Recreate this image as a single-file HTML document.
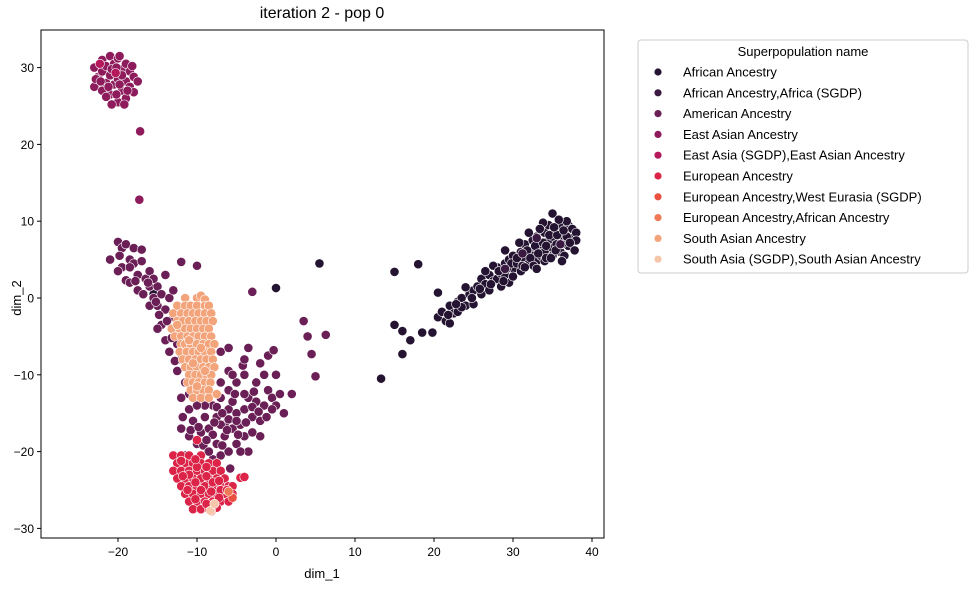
<!DOCTYPE html>
<html><head><meta charset="utf-8"><style>
body{margin:0;background:#fff;}
svg{display:block;font-family:"Liberation Sans","DejaVu Sans",sans-serif;}
</style></head><body>
<svg id="chart" width="978" height="590" xmlns="http://www.w3.org/2000/svg">
<text x="322" y="18" text-anchor="middle" font-size="16">iteration 2 - pop 0</text>
<g id="plot"></g>
<rect x="41" y="30" width="563" height="508" fill="none" stroke="#000" stroke-width="1"/>
<g id="xticks"></g>
<g id="yticks"></g>
<text x="322" y="578" text-anchor="middle" font-size="13">dim_1</text>
<text x="21" y="298" text-anchor="middle" font-size="13" transform="rotate(-90 21 298)">dim_2</text>
<g>
<rect x="638" y="40" width="330" height="233" rx="3" fill="#fff" stroke="#ccc"/>
<text x="803" y="56" text-anchor="middle" font-size="13">Superpopulation name</text>
<g id="legend"></g>
</g>
</svg>
<script>
const xTicks=[-20,-10,0,10,20,30,40];
const yTicks=[-30,-20,-10,0,10,20,30];
const seriesNames=["African Ancestry","African Ancestry,Africa (SGDP)","American Ancestry","East Asian Ancestry","East Asia (SGDP),East Asian Ancestry","European Ancestry","European Ancestry,West Eurasia (SGDP)","European Ancestry,African Ancestry","South Asian Ancestry","South Asia (SGDP),South Asian Ancestry"];
const seriesColors=["#241432","#3b1a42","#6a1f56","#8e1c5d","#b5195b","#db2447","#ea5040","#f07a57","#f3a47b","#f6c6aa"];
const african=[[20.5,-2.5],[21,-1.8],[21.5,-3],[22,-1],[22.5,-2],[23,-0.5],[23,-1.8],[23.5,0],[24,-1],[24.5,0.5],[25,1],[25,-0.8],[19.8,-4.5],[20.5,0.7],[22,-3.3],[24,1.4],[21.8,-2.2],[23.5,-1.2],[24.8,0],[22.8,-0.8],
[25.5,1.5],[26,2.5],[26,0.5],[26.5,1.8],[27,3],[27,1],[27.5,2.2],[28,4],[28,2.5],[28.5,3.2],[28.5,1.5],[29,4.5],[29,3],[29.5,2],[29.5,5],[30,3.8],[30,5.5],[30,2.8],[27.5,4.2],[26.5,3.5],[25.8,1.2],[27.2,1.8],[28.2,3.5],[29.2,3.8],[29.8,4.5],[28.8,2.2],
[30.5,4.5],[31,6],[31,3.5],[31.5,5],[31.5,7],[32,6],[32,4.5],[32.5,7.5],[32.5,5.5],[33,6.5],[33,4.8],[33,8],[33.5,7],[33.5,5.5],[34,6],[34,8.5],[34,4.8],[34.5,7.5],[34.5,9.5],[35,6.5],[35,8],[35,5.5],[35,11],[30.8,7.2],[32,8.5],[33.8,9.8],[30.5,5.2],[31.2,4.2],[31.8,6.2],[32.2,5.2],[32.8,6.8],[33.2,5.8],[33.8,7.2],[34.2,6.8],[34.6,8.2],[34.2,5.2],[32.6,4.2],[33.4,9],
[35.5,7],[35.5,9],[36,8.3],[36,6],[36,9.5],[36.5,7.5],[36.5,5.5],[37,8.5],[37,6.8],[37,9.5],[37.5,7.8],[37.5,9],[38,8.5],[38,7.5],[36.8,10],[35.8,10.2],[37.8,6.2],[34.8,5.2],[31.5,4],[33,3.8],[29,6.2],[36.2,4.8],[35.4,6.2],[36.2,7],[36.8,8],[35.6,8.2],[37.2,7.2],[35.2,9.2],[36.4,8.8],
[5.5,4.5],[0,1.3],[15,3.4],[18,4.4],[15,-3.5],[16,-4.3],[17,-5.5],[16,-7.3],[18.5,-4.5],[13.3,-10.5],[-15.5,0.5]];
const africanSgdp=[[29,3.8],[33,7.8],[36,7],[31.2,5.8]];
const american=[[-21,5],[-20,7.3],[-19.5,6.5],[-19,7],[-19.5,4],[-18.5,5],[-18,4.5],[-20,3.5],[-18,6.5],[-17,6.3],[-17.5,3],[-17,4.8],[-16.5,2.5],[-16,3.5],[-19,2.3],[-18.5,2],[-17.5,1],[-16,1.5],[-15.5,0],[-15,1.5],[-15,-1],[-14.5,0.5],[-14,-1.5],[-13.5,0],[-16,-1],[-14.5,-3.5],[-13,-2.5],[-15,-4],[-14,-5.5],[-13,-4],[-12.5,-6],[-13.5,-7],[-12,-8],[-12.5,-9.5],[-11.5,-11],[-11,-12.5],[-12,-13],[-11,-14.5],[-10.5,-16],[-12,-17],[-11,-18],[-10,-19],[-11.5,-20.5],[-9.5,-17.5],[-14,3],[-12,4.7],[-10,4.2],[-13,1],[-15.5,2.5],[-16.8,0.5],[-11.5,-2],[-12.2,-3.8],[-14.8,-2.2],[-17.8,2.2],[-16.2,2],[-15.2,-0.5],[-13.8,-3],[-13.2,-5.2],[-12.8,-8.2],[-11.8,-15.5],[-10.8,-17.2],[-18.5,4],[-19.8,5.5],
[-8,-14],[-7.5,-15.5],[-7,-13],[-6.5,-16.5],[-6,-14.5],[-5.5,-17],[-5,-15],[-5,-19],[-4.5,-16.5],[-4,-18],[-3.5,-13],[-3.5,-20],[-3,-15.5],[-2.5,-13.5],[-2,-16],[-1.5,-14],[-1,-12],[-0.5,-13],[0,-14],[0.5,-12.5],[1,-15],[2,-12.5],[-2,-18],[-3,-17.5],[-6,-12],[-7,-11],[-6,-9.5],[-5,-11],[-4,-12.5],[-7.5,-19],[-8,-21],[-8.5,-17],[-9,-15.5],[-7,-20.5],[-6,-20],[-8.2,-12.5],[-9,-14],[-4,-10],[-4.2,-8.8],[-6.5,-18],[-5.8,-22.2],[-9.2,-19.2],[-10,-14],[-7,-7],[-6,-6.5],[-5.5,-10],[-7,-16.5],[-8,-17.8],[-6,-15.8],[-4,-14.5],[-9.5,-12.5],[-7.5,-14.2],[-6.8,-15],[-5.5,-13.5],[-4.8,-17.8],[-6.2,-17.2],[-7.8,-16.2],[-8.8,-18.5],[-5,-16],[-3,-14.2],[-2.2,-14.8],[-1.2,-15.5],[-0.5,-14.5],[-4.5,-20],[-6.8,-19.2],[-8.5,-20],[-9.8,-16.8],[-3.8,-16.2],[-2.8,-12.2],[-5.2,-12.5],
[-3.5,-6.5],[-4,-8],[-2,-8.5],[-1,-7.5],[-0.3,-6.8],[-1.5,-10],[-2.5,-11],[0,-10],[3.5,-3],[4,-5],[4.5,-7.3],[5,-10.2],[6.3,-4.8],[-3,0.8]];
const eastAsian=[[-23,27.5],[-23,30],[-22.5,28.8],[-22,27],[-22,31],[-22,29.5],[-21.5,28],[-21.5,30.2],[-21,26.5],[-21,29],[-21,31.5],[-20.5,27.8],[-20.5,30.5],[-20,25.5],[-20,28.5],[-20,31.2],[-19.5,27],[-19.5,29.8],[-19,26],[-19,28.2],[-19,30.5],[-18.5,27.5],[-18.5,29.5],[-18,28.8],[-18,26.8],[-17.5,28.2],[-18.2,30.2],[-20.8,25.2],[-22.8,28.5],[-19.8,31.5],[-21.5,26.2],[-20.2,26.5],[-19.2,25.2],[-21.2,27.5],[-20.8,29.8],[-19.8,27.8],[-19.5,29],[-18.8,27],[-22.2,28.2],[-20.2,30],[-17.2,21.7],[-17.3,12.8]];
const eastAsiaSgdp=[[-22.3,30.5],[-20.3,29.3]];
const european=[[-13,-20.5],[-12,-20.5],[-11,-20.5],[-9.5,-20.5],[-12.5,-21.5],[-11.5,-21.5],[-10.5,-21.5],[-9.5,-21.5],[-8.5,-21.5],[-7.5,-21.5],[-13,-22.5],[-12,-22.5],[-11,-22.5],[-10,-22.5],[-9,-22.5],[-8,-22.5],[-7,-22.5],[-12.5,-23.5],[-11.5,-23.5],[-10.5,-23.5],[-9.5,-23.5],[-8.5,-23.5],[-7.5,-23.5],[-6.5,-23.5],[-4.5,-23.4],[-12,-24.5],[-11,-24.5],[-10,-24.5],[-9,-24.5],[-8,-24.5],[-7,-24.5],[-6,-24.5],[-5.5,-24.5],[-11.5,-25.5],[-10.5,-25.5],[-9.5,-25.5],[-8.5,-25.5],[-7.5,-25.5],[-6.5,-25.5],[-5.5,-25.5],[-11,-26.5],[-10,-26.5],[-9,-26.5],[-8,-26.5],[-7,-26.5],[-6,-26.5],[-10.5,-27.5],[-9.5,-27.5],[-8.5,-27.5],[-7.5,-27.3],[-10,-18.5],[-4,-23.3],[-11,-23],[-9.5,-25],[-8,-24],[-10,-22],[-7,-25],[-12,-21.2],[-10.2,-21],[-8.8,-22],[-11.8,-23.2],[-10.2,-24],[-8.8,-23.2],[-7.2,-23.8],[-11.2,-25],[-8.2,-25.2],[-6.2,-25],[-10.2,-26.2],[-8.8,-26.8],[-7.2,-26]];
const europeanSgdp=[[-5.5,-26],[-8.2,-27.8]];
const europeanAfrican=[[-6,-25.2]];
const southAsian=[[-11.5,0],[-10,0],[-9.5,0.3],[-9,-0.2],[-12.5,-1],[-11.5,-1],[-10.8,-1],[-10,-1],[-9,-1],[-8.5,-1],[-13,-2],[-12,-2],[-11.2,-2],[-10.5,-2],[-9.8,-2],[-9,-2],[-8.2,-2],[-12.5,-3],[-11.8,-3],[-11,-3],[-10.2,-3],[-9.5,-3],[-8.8,-3],[-8,-3],[-13.2,-4],[-12.2,-4],[-11.5,-4],[-10.8,-4],[-10,-4],[-9.2,-4],[-8.5,-4],[-12.8,-5],[-12,-5],[-11.2,-5],[-10.5,-5],[-9.8,-5],[-9,-5],[-8.2,-5],[-12,-6],[-11.5,-6],[-10.8,-6],[-10,-6],[-9.2,-6],[-8.5,-6],[-7.8,-6],[-12.2,-7],[-11.3,-7],[-10.5,-7],[-9.8,-7],[-9,-7],[-8.2,-7],[-11.8,-8],[-11,-8],[-10.2,-8],[-9.5,-8],[-8.8,-8],[-8,-8],[-11.5,-9],[-10.8,-9],[-10,-9],[-9.2,-9],[-8.5,-9],[-7.8,-9],[-11,-10],[-10.2,-10],[-9.5,-10],[-8.8,-10],[-8.2,-10],[-11.2,-11],[-10.5,-11],[-9.8,-11],[-9,-11],[-8.3,-11],[-10.8,-12],[-10,-12],[-9.2,-12],[-8.5,-12],[-10.5,-13],[-9.5,-13],[-8.5,-13],[-7.5,-12.5],[-12.5,-3.5],[-11,-5.5],[-9.5,-6.5],[-10.5,-8.5],[-9,-9.5],[-10,-11.5]];
const southAsiaSgdp=[[-8.3,-27.7],[-7.8,-26.8]];
const allSeries=[african,africanSgdp,american,eastAsian,eastAsiaSgdp,european,europeanSgdp,europeanAfrican,southAsian,southAsiaSgdp];
const NS="http://www.w3.org/2000/svg";
function sx(v){return 276+7.9*v;}
function sy(v){return 298-7.68*v;}
function mk(tag,attrs,parent){const e=document.createElementNS(NS,tag);for(const k in attrs)e.setAttribute(k,attrs[k]);parent.appendChild(e);return e;}
function fmt(t){return t<0?'\u2212'+Math.abs(t):String(t);}
const plot=document.getElementById('plot');
allSeries.forEach((pts,si)=>{
  const g=mk('g',{},plot);
  
  
  pts.forEach(p=>{
    const c=mk('circle',{cx:sx(p[0]),cy:sy(p[1]),r:4.6,fill:seriesColors[si],stroke:'#fff','stroke-width':0.6},g);
    
    
  });
});
const xg=document.getElementById('xticks');
xTicks.forEach(t=>{
  const l=mk('line',{x1:sx(t),x2:sx(t),y1:538,y2:542,stroke:'#000'},xg);
  
  
  const tx=mk('text',{x:sx(t),y:556,'text-anchor':'middle','font-size':12},xg);
  tx.textContent=fmt(t);
  
  
});
const yg=document.getElementById('yticks');
yTicks.forEach(t=>{
  const l=mk('line',{x1:37,x2:41,y1:sy(t),y2:sy(t),stroke:'#000'},yg);
  
  
  const tx=mk('text',{x:34,y:sy(t)+4.5,'text-anchor':'end','font-size':12},yg);
  tx.textContent=fmt(t);
  
  
});
const lg=document.getElementById('legend');
seriesNames.forEach((n,i)=>{
  const y=72+i*20.8;
  const g=mk('g',{},lg);
  
  
  mk('circle',{cx:658,cy:y,r:3.6,fill:seriesColors[i]},g);
  const t=mk('text',{x:683,y:y+4.5,'font-size':13},g);
  t.textContent=n;
});
</script>
</body></html>
